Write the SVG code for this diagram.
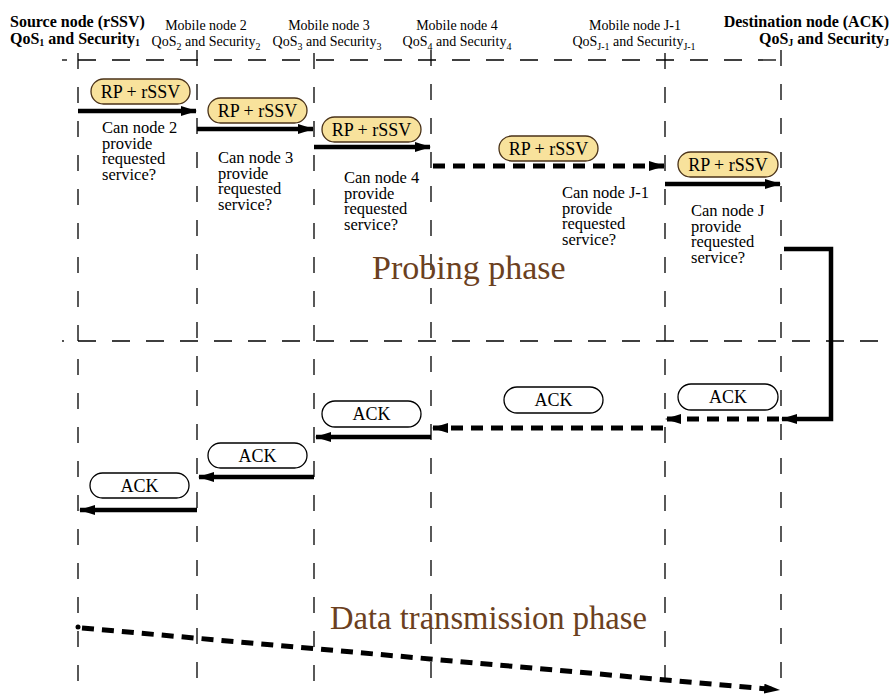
<svg xmlns="http://www.w3.org/2000/svg" width="892" height="696" viewBox="0 0 892 696">
<style>
  text { font-family: "Liberation Serif", "Times New Roman", serif; fill: #000; }
  .hb { font-size: 16px; font-weight: bold; }
  .hn { font-size: 14px; }
  .sub { font-size: 10px; }
  .q { font-size: 16.5px; }
  .pl { font-size: 18px; }
  .phase { font-size: 34px; fill: #6b4020; }
  .life { stroke: #000; stroke-width: 1.3; stroke-dasharray: 16 18; fill: none; }
  .hline { stroke: #000; stroke-width: 1.3; stroke-dasharray: 18 16; fill: none; }
  .rp { fill: #f8e29c; stroke: #4a3218; stroke-width: 1.3; }
  .ack { fill: #fff; stroke: #000; stroke-width: 1.3; }
  .sol { stroke: #000; stroke-width: 4.5; fill: none; }
  .dsh { stroke: #000; stroke-width: 5; fill: none; stroke-dasharray: 12 8; }
</style>
<defs>
  <marker id="ah" viewBox="0 0 16 10" refX="15" refY="5" markerWidth="16" markerHeight="10" markerUnits="userSpaceOnUse" orient="auto">
    <path d="M0,0 L16,5 L0,10 z" fill="#000"/>
  </marker>
</defs>
<rect width="892" height="696" fill="#fff"/>

<!-- lifelines -->
<g id="lifelines">
  <line class="life" x1="78" y1="53" x2="78" y2="696"/>
  <line class="life" x1="197" y1="50" x2="197" y2="696"/>
  <line class="life" x1="314" y1="53" x2="314" y2="696"/>
  <line class="life" x1="431" y1="50" x2="431" y2="696"/>
  <line class="life" x1="665" y1="53" x2="665" y2="696"/>
  <line class="life" x1="781" y1="50" x2="781" y2="696"/>
  <line x1="62" y1="60" x2="67" y2="60" stroke="#000" stroke-width="1.3"/>
  <line class="hline" x1="78" y1="60" x2="790" y2="60"/>
  <circle cx="63" cy="341" r="0.9" fill="#000"/>
  <line class="hline" x1="78" y1="341" x2="892" y2="341"/>
</g>

<!-- header nodes -->
<g id="node-source">
  <text class="hb" x="10" y="27">Source node (rSSV)</text>
  <text class="hb" x="10" y="44">QoS<tspan class="sub" dy="2">1</tspan><tspan dy="-2"> and Security</tspan><tspan class="sub" dy="2">1</tspan></text>
</g>
<g id="node-2">
  <text class="hn" x="206" y="30" text-anchor="middle">Mobile node 2</text>
  <text class="hn" x="206" y="46" text-anchor="middle">QoS<tspan class="sub" dy="4">2</tspan><tspan dy="-4"> and Security</tspan><tspan class="sub" dy="4">2</tspan></text>
</g>
<g id="node-3">
  <text class="hn" x="329" y="30" text-anchor="middle">Mobile node 3</text>
  <text class="hn" x="327" y="46" text-anchor="middle">QoS<tspan class="sub" dy="4">3</tspan><tspan dy="-4"> and Security</tspan><tspan class="sub" dy="4">3</tspan></text>
</g>
<g id="node-4">
  <text class="hn" x="457" y="30" text-anchor="middle">Mobile node 4</text>
  <text class="hn" x="457" y="46" text-anchor="middle">QoS<tspan class="sub" dy="4">4</tspan><tspan dy="-4"> and Security</tspan><tspan class="sub" dy="4">4</tspan></text>
</g>
<g id="node-j1">
  <text class="hn" x="635" y="30" text-anchor="middle">Mobile node J-1</text>
  <text class="hn" x="634" y="46" text-anchor="middle">QoS<tspan class="sub" dy="4">J-1</tspan><tspan dy="-4"> and Security</tspan><tspan class="sub" dy="4">J-1</tspan></text>
</g>
<g id="node-dest">
  <text class="hb" x="889" y="27" text-anchor="end">Destination node (ACK)</text>
  <text class="hb" x="889" y="44" text-anchor="end">QoS<tspan class="sub" dy="2">J</tspan><tspan dy="-2"> and Security</tspan><tspan class="sub" dy="2">J</tspan></text>
</g>

<!-- message labels -->
<g id="rp1"><rect class="rp" x="91" y="79" width="99" height="25" rx="12.5"/><text class="pl" x="140.5" y="98" text-anchor="middle">RP + rSSV</text></g>
<g id="rp2"><rect class="rp" x="208" y="98" width="99" height="25" rx="12.5"/><text class="pl" x="257.5" y="117" text-anchor="middle">RP + rSSV</text></g>
<g id="rp3"><rect class="rp" x="322" y="117" width="99" height="25" rx="12.5"/><text class="pl" x="371.5" y="136" text-anchor="middle">RP + rSSV</text></g>
<g id="rp4"><rect class="rp" x="499" y="136" width="99" height="25" rx="12.5"/><text class="pl" x="548.5" y="155" text-anchor="middle">RP + rSSV</text></g>
<g id="rp5"><rect class="rp" x="678" y="152" width="100" height="25" rx="12.5"/><text class="pl" x="728" y="171" text-anchor="middle">RP + rSSV</text></g>

<g id="ack1"><rect class="ack" x="678" y="384" width="100" height="26" rx="13"/><text class="pl" x="728" y="403" text-anchor="middle">ACK</text></g>
<g id="ack2"><rect class="ack" x="504" y="387" width="99" height="26" rx="13"/><text class="pl" x="553.5" y="406" text-anchor="middle">ACK</text></g>
<g id="ack3"><rect class="ack" x="322" y="401" width="99" height="26" rx="13"/><text class="pl" x="371.5" y="420" text-anchor="middle">ACK</text></g>
<g id="ack4"><rect class="ack" x="208" y="443" width="99" height="25" rx="12.5"/><text class="pl" x="257.5" y="462" text-anchor="middle">ACK</text></g>
<g id="ack5"><rect class="ack" x="90" y="473" width="99" height="25" rx="12.5"/><text class="pl" x="139.5" y="492" text-anchor="middle">ACK</text></g>

<!-- questions -->
<g id="q2"><text class="q"><tspan x="102" y="133">Can node 2</tspan><tspan x="102" y="148.5">provide</tspan><tspan x="102" y="164">requested</tspan><tspan x="102" y="179.5">service?</tspan></text></g>
<g id="q3"><text class="q"><tspan x="218" y="163">Can node 3</tspan><tspan x="218" y="178.5">provide</tspan><tspan x="218" y="194">requested</tspan><tspan x="218" y="209.5">service?</tspan></text></g>
<g id="q4"><text class="q"><tspan x="344" y="183">Can node 4</tspan><tspan x="344" y="198.5">provide</tspan><tspan x="344" y="214">requested</tspan><tspan x="344" y="229.5">service?</tspan></text></g>
<g id="qj1"><text class="q"><tspan x="562" y="198">Can node J-1</tspan><tspan x="562" y="213.5">provide</tspan><tspan x="562" y="229">requested</tspan><tspan x="562" y="244.5">service?</tspan></text></g>
<g id="qj"><text class="q"><tspan x="691" y="216">Can node J</tspan><tspan x="691" y="231.5">provide</tspan><tspan x="691" y="247">requested</tspan><tspan x="691" y="262.5">service?</tspan></text></g>

<!-- phases -->
<g id="probing"><text class="phase" x="372" y="279">Probing phase</text></g>
<g id="data"><text class="phase" x="330" y="629" font-size="36" textLength="317" lengthAdjust="spacingAndGlyphs">Data transmission phase</text></g>

<!-- connectors -->
<g id="connectors">
  <line class="sol" x1="78" y1="111" x2="196" y2="111" marker-end="url(#ah)"/>
  <line class="sol" x1="197" y1="129" x2="313" y2="129" marker-end="url(#ah)"/>
  <line class="sol" x1="314" y1="147" x2="430" y2="147" marker-end="url(#ah)"/>
  <line class="dsh" x1="433" y1="166" x2="664" y2="166" marker-end="url(#ah)"/>
  <line class="sol" x1="665" y1="184" x2="780" y2="184" marker-end="url(#ah)"/>
  <polyline class="sol" points="784,249 831,249 831,419 782,419" marker-end="url(#ah)"/>
  <line class="dsh" x1="779" y1="419" x2="666" y2="419" marker-end="url(#ah)"/>
  <line class="dsh" x1="663" y1="428" x2="433" y2="428" marker-end="url(#ah)"/>
  <line class="sol" x1="431" y1="437" x2="316" y2="437" marker-end="url(#ah)"/>
  <line class="sol" x1="314" y1="477" x2="199" y2="477" marker-end="url(#ah)"/>
  <line class="sol" x1="197" y1="510" x2="80" y2="510" marker-end="url(#ah)"/>
  <circle cx="78" cy="627" r="2.5" fill="#000"/>
  <line class="dsh" x1="82" y1="628" x2="779" y2="690" stroke-dasharray="16 11" marker-end="url(#ah)"/>
</g>
</svg>
